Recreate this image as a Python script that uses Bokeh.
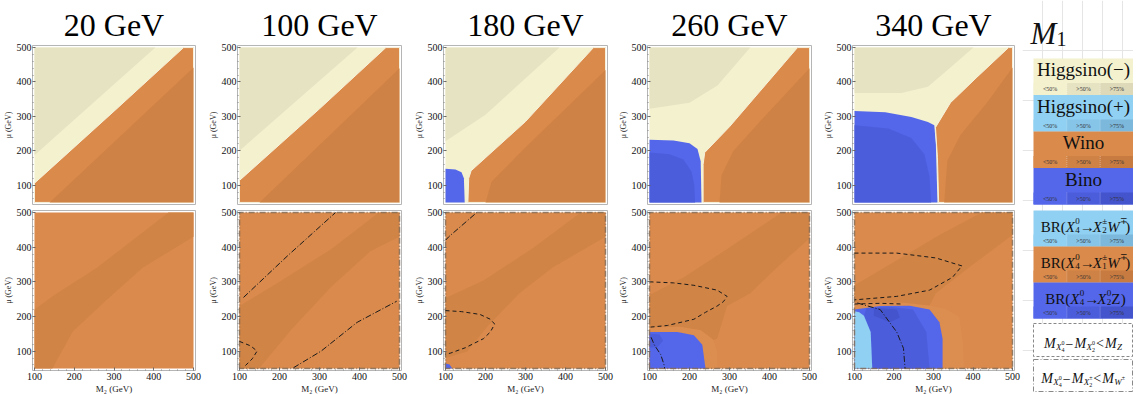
from bokeh.plotting import figure
from bokeh.layouts import row, column
from bokeh.models import Range1d, FixedTicker
from bokeh.embed import file_html
from bokeh.resources import INLINE
from bokeh.core.properties import value

# ---------------- data ----------------
M1_TITLES = ["20 GeV", "100 GeV", "180 GeV", "260 GeV", "340 GeV"]
M2_TICKS = [100, 200, 300, 400, 500]
MU_TICKS = [100, 200, 300, 400, 500]
M2_MINOR = list(range(100, 501, 20))
MU_MINOR = list(range(60, 501, 20))
M2_RANGE = (100, 500)
MU_RANGE = (50, 500)

# Top row: neutralino composition regions, vertices as (M2, mu)
T20_HIGGS_GT50 = [(100, 187), (404, 500), (100, 500)]
T20_WINO = [(100, 50), (100, 106), (300, 315), (475, 500), (500, 500), (500, 50)]
T20_WINO_GT50 = [(138, 50), (500, 442), (500, 50)]

T100_HIGGS_GT50 = [(100, 200), (395, 500), (100, 500)]
T100_WINO = [(100, 50), (100, 114), (300, 322), (466, 500), (500, 500), (500, 50)]
T100_WINO_GT50 = [(150, 50), (500, 440), (500, 50)]

T180_HIGGS_GT50 = [(100, 228), (200, 305), (385, 500), (100, 500)]
T180_BINO = [(100, 50), (100, 148), (125, 146), (140, 138), (146, 120), (148, 50)]
T180_WINO = [(156, 50), (158, 120), (164, 142), (300, 285), (470, 500), (500, 500), (500, 50)]
T180_WINO_GT50 = [(200, 50), (215, 110), (300, 210), (500, 435), (500, 50)]

T260_HIGGS_GT50 = [(100, 322), (200, 340), (270, 390), (352, 500), (100, 500)]
T260_BINO = [(100, 50), (100, 232), (160, 230), (200, 222), (220, 205), (228, 170), (230, 50)]
T260_BINO_GT50 = [(100, 50), (100, 195), (150, 190), (185, 175), (205, 140), (212, 100), (214, 50)]
T260_WINO = [(234, 50), (234, 160), (238, 195), (300, 270), (470, 500), (500, 500), (500, 50)]
T260_WINO_GT50 = [(275, 50), (280, 130), (310, 200), (380, 290), (500, 440), (500, 50)]

T340_HIGGS_GT50 = [(100, 368), (219, 368), (286, 386), (343, 442), (401, 500), (100, 500)]
T340_BINO = [(100, 50), (100, 316), (178, 312), (244, 298), (286, 284), (302, 274), (306, 218), (310, 50)]
T340_BINO_GT50 = [(100, 50), (100, 274), (186, 265), (244, 237), (277, 190), (290, 125), (294, 50)]
T340_WINO = [(313, 50), (310, 180), (305, 268), (343, 340), (410, 414), (490, 500), (500, 500), (500, 50)]
T340_WINO_GT50 = [(327, 50), (335, 172), (368, 246), (435, 340), (500, 442), (500, 50)]

# Bottom row: branching-ratio regions, vertices as (M2, mu)
B20_BAND = [(100, 50), (100, 220), (150, 262), (257, 341), (437, 500), (500, 500), (500, 430),
            (372, 341), (282, 248), (196, 156), (145, 50)]

B100_BAND = [(100, 50), (100, 230), (200, 300), (330, 395), (448, 500), (500, 500), (500, 430),
             (427, 388), (329, 285), (231, 164), (149, 50)]
B100_DASHDOT_1 = [(110, 255), (220, 375), (340, 500)]
B100_DASHDOT_2 = [(235, 52), (304, 100), (394, 183), (493, 244)]
B100_DASHED = [(100, 128), (128, 115), (144, 100), (132, 78), (112, 55)]

B180_BAND = [(100, 80), (100, 253), (195, 304), (318, 397), (438, 500), (500, 500), (500, 430),
             (367, 341), (285, 267), (207, 174), (154, 99)]
B180_BINO = [(100, 50), (100, 64), (110, 61), (117, 50)]
B180_DASHED = [(100, 217), (140, 214), (186, 206), (212, 192), (223, 178), (212, 155), (195, 136),
               (150, 110), (112, 94), (100, 91)]
B180_DASHDOT = [(100, 420), (108, 430), (178, 500)]

B260_BAND = [(100, 168), (100, 262), (186, 313), (310, 407), (430, 500), (500, 500), (500, 425),
             (418, 341), (352, 267), (294, 230), (269, 136), (260, 132), (228, 160), (175, 170)]
B260_HALO = [(100, 50), (100, 168), (175, 170), (228, 160), (260, 132), (269, 100), (270, 50)]
B260_BINO = [(100, 50), (100, 155), (170, 155), (211, 146), (232, 118), (240, 50)]
B260_BINO_GT50 = [(100, 110), (100, 150), (125, 148), (134, 130), (120, 112)]
B260_DASHED = [(100, 300), (160, 297), (211, 290), (269, 276), (294, 258), (285, 243), (269, 230),
               (240, 212), (211, 192), (145, 174), (100, 169)]
B260_DASHDOT = [(104, 140), (112, 118), (128, 90), (136, 62), (138, 50)]

B340_BAND = [(100, 240), (100, 290), (315, 435), (422, 500), (500, 500), (500, 435), (389, 341),
             (306, 267), (290, 232), (220, 240)]
B340_HALO = [(100, 50), (100, 230), (220, 240), (290, 232), (330, 222), (365, 200), (375, 120), (377, 50)]
B340_BINO = [(100, 50), (100, 220), (165, 230), (240, 231), (290, 220), (315, 183), (323, 136), (323, 50)]
B340_BINO_GT50 = [(124, 202), (141, 155), (145, 50), (290, 50), (282, 155), (248, 220), (180, 229), (130, 224)]
B340_BINO_GT75 = [(149, 225), (207, 220), (215, 197), (190, 183), (149, 202)]
B340_HWINO = [(100, 50), (100, 215), (112, 212), (124, 202), (141, 155), (145, 50)]
B340_DASHED = [(100, 383), (207, 383), (306, 369), (372, 346), (348, 313), (290, 276), (207, 258), (100, 248)]
B340_DASHED_2 = [(100, 236), (165, 238), (220, 236)]
B340_DASHDOT = [(107, 239), (165, 220), (207, 155), (224, 108), (228, 50)]

# legend entries
COMP_NAMES = ["Higgsino(\u2212)", "Higgsino(+)", "Wino", "Bino"]
PCT_LABELS = ["<50%", ">50%", ">75%"]

# ---------------- styling ----------------
SERIF = "Liberation Serif"
CREAM = ["#f4f1cf", "#e6e3c3", "#ddd9b9"]
LBLUE = ["#90d0f2", "#86c4e8", "#7bb8dc"]
ORANGE = ["#da8a4b", "#cf8245", "#c77b41"]
BLUE = ["#5467ea", "#4c5ddc", "#4454cc"]
B_BASE = "#d98a4c"
B_BAND = "#d08446"
B_HALO = "#dc8d50"

# (left border, frame width, right border) per column
COL_GEOM = [(28, 163, 10), (30, 164, 10), (31, 164, 8), (32, 164, 8), (33, 162, 8)]
TOP_GEOM = (45, 159, 3)     # top border, frame height, bottom border
BOT_GEOM = (3, 160, 22)

DOMAIN = [(M2_RANGE[0], MU_RANGE[0]), (M2_RANGE[0], MU_RANGE[1]),
          (M2_RANGE[1], MU_RANGE[1]), (M2_RANGE[1], MU_RANGE[0])]


def xs(poly):
    return [q[0] for q in poly]


def ys(poly):
    return [q[1] for q in poly]


def make_panel(col, top, layers, dashed=(), dashdot=(), frame_dd=False, wino_edges=()):
    lb, fw, rb = COL_GEOM[col]
    common = dict(frame_width=fw, min_border_left=lb, min_border_right=rb,
                  x_range=Range1d(95, 505), y_range=Range1d(44, 506),
                  toolbar_location=None, output_backend="svg", tools="")
    if top:
        bt, fh, bb = TOP_GEOM
        p = figure(frame_height=fh, min_border_top=bt, min_border_bottom=bb,
                   x_axis_location=None, title=M1_TITLES[col], **common)
        p.title.text_font = SERIF
        p.title.text_font_size = "32px"
        p.title.text_font_style = "normal"
        p.title.align = "center"
        p.title.standoff = 5
        p.title.text_color = "black"
    else:
        bt, fh, bb = BOT_GEOM
        p = figure(frame_height=fh, min_border_top=bt, min_border_bottom=bb, **common)
        p.xaxis.ticker = FixedTicker(ticks=M2_TICKS, minor_ticks=M2_MINOR)
        p.xaxis.axis_label = "M\u2082 (GeV)"
        p.xaxis.axis_label_text_font = SERIF
        p.xaxis.axis_label_text_font_size = "9px"
        p.xaxis.axis_label_text_font_style = "normal"
        p.xaxis.axis_label_standoff = 1
        p.xaxis.major_label_text_font = SERIF
        p.xaxis.major_label_text_font_size = "10px"
        p.xaxis.major_label_standoff = 2
        p.xaxis.axis_line_color = None
        p.xaxis.major_tick_in = 3
        p.xaxis.major_tick_out = 0
        p.xaxis.minor_tick_in = 1
        p.xaxis.minor_tick_out = 0
        p.xaxis.major_tick_line_color = "#666"
        p.xaxis.minor_tick_line_color = "#888"
        p.xaxis.major_label_text_color = "#111"
        p.xaxis.axis_label_text_color = "#222"
    p.yaxis.ticker = FixedTicker(ticks=MU_TICKS, minor_ticks=MU_MINOR)
    p.yaxis.axis_label = "\u03bc (GeV)"
    p.yaxis.axis_label_text_font = SERIF
    p.yaxis.axis_label_text_font_size = "8px"
    p.yaxis.axis_label_text_font_style = "normal"
    p.yaxis.axis_label_standoff = 1
    p.yaxis.major_label_text_font = SERIF
    p.yaxis.major_label_text_font_size = "10px"
    p.yaxis.major_label_standoff = 1
    p.yaxis.axis_line_color = None
    p.yaxis.major_tick_in = 3
    p.yaxis.major_tick_out = 0
    p.yaxis.minor_tick_in = 1
    p.yaxis.minor_tick_out = 0
    p.yaxis.major_tick_line_color = "#666"
    p.yaxis.minor_tick_line_color = "#888"
    p.yaxis.major_label_text_color = "#111"
    p.yaxis.axis_label_text_color = "#222"
    p.grid.visible = False
    p.outline_line_color = "#b5b5b5"
    p.background_fill_color = "white"
    p.border_fill_color = "white"

    for poly, color in layers:
        edge = "#f6f1dc" if any(poly is w for w in wino_edges) else None
        p.patch(xs(poly), ys(poly), fill_color=color, line_color=edge, line_width=1)
    if frame_dd:
        rect = DOMAIN + [DOMAIN[0]]
        p.line(xs(rect), ys(rect), line_color="#7d6650", line_width=1.5, line_dash="6 2 1 2", line_alpha=0.8)
    for ln in dashed:
        p.line(xs(ln), ys(ln), line_color="#1a1a1a", line_width=1, line_dash="4 3")
    for ln in dashdot:
        p.line(xs(ln), ys(ln), line_color="#1a1a1a", line_width=1, line_dash="6 2 1 2")
    return p


tops = [
    make_panel(0, True, [(DOMAIN, CREAM[0]), (T20_HIGGS_GT50, CREAM[1]), (T20_WINO, ORANGE[0]),
                         (T20_WINO_GT50, ORANGE[1])], wino_edges=(T20_WINO,)),
    make_panel(1, True, [(DOMAIN, CREAM[0]), (T100_HIGGS_GT50, CREAM[1]), (T100_WINO, ORANGE[0]),
                         (T100_WINO_GT50, ORANGE[1])], wino_edges=(T100_WINO,)),
    make_panel(2, True, [(DOMAIN, CREAM[0]), (T180_HIGGS_GT50, CREAM[1]), (T180_BINO, BLUE[0]),
                         (T180_WINO, ORANGE[0]), (T180_WINO_GT50, ORANGE[1])], wino_edges=(T180_WINO,)),
    make_panel(3, True, [(DOMAIN, CREAM[0]), (T260_HIGGS_GT50, CREAM[1]), (T260_BINO, BLUE[0]),
                         (T260_BINO_GT50, BLUE[1]), (T260_WINO, ORANGE[0]), (T260_WINO_GT50, ORANGE[1])],
               wino_edges=(T260_WINO,)),
    make_panel(4, True, [(DOMAIN, CREAM[0]), (T340_HIGGS_GT50, CREAM[1]), (T340_BINO, BLUE[0]),
                         (T340_BINO_GT50, BLUE[1]), (T340_WINO, ORANGE[0]), (T340_WINO_GT50, ORANGE[1])],
               wino_edges=(T340_WINO,)),
]

bottoms = [
    make_panel(0, False, [(DOMAIN, B_BASE), (B20_BAND, B_BAND)]),
    make_panel(1, False, [(DOMAIN, B_BASE), (B100_BAND, B_BAND)],
               dashed=[B100_DASHED], dashdot=[B100_DASHDOT_1, B100_DASHDOT_2], frame_dd=True),
    make_panel(2, False, [(DOMAIN, B_BASE), (B180_BAND, B_BAND), (B180_BINO, BLUE[0])],
               dashed=[B180_DASHED], dashdot=[B180_DASHDOT], frame_dd=True),
    make_panel(3, False, [(DOMAIN, B_BASE), (B260_BAND, B_BAND), (B260_HALO, B_HALO),
                          (B260_BINO, BLUE[0]), (B260_BINO_GT50, BLUE[1])],
               dashed=[B260_DASHED], dashdot=[B260_DASHDOT], frame_dd=True),
    make_panel(4, False, [(DOMAIN, B_BASE), (B340_HALO, B_HALO), (B340_BAND, B_BAND),
                          (B340_BINO, BLUE[0]), (B340_BINO_GT50, BLUE[1]), (B340_BINO_GT75, BLUE[2]),
                          (B340_HWINO, LBLUE[0])],
               dashed=[B340_DASHED, B340_DASHED_2], dashdot=[B340_DASHDOT], frame_dd=True),
]

# ---------------- legend column ----------------
LW = 111
LH = TOP_GEOM[0] + TOP_GEOM[1] + TOP_GEOM[2] + BOT_GEOM[0] + BOT_GEOM[1] + BOT_GEOM[2]
lg = figure(width=LW, height=LH, x_range=Range1d(0, LW), y_range=Range1d(LH, 0), min_border=0,
            x_axis_location=None, y_axis_location=None, toolbar_location=None,
            output_backend="svg", tools="")
lg.outline_line_color = None
lg.background_fill_color = "white"
lg.border_fill_color = "white"


def txt(x, y, s, size, italic=False, align="left", baseline="alphabetic", color="#111"):
    lg.text(x=[x], y=[y], text=[s], text_font=value(SERIF), text_font_size=value(f"{size}px"),
            text_font_style="italic" if italic else "normal", text_align=align,
            text_baseline=baseline, text_color=color)


def rich(pieces, cx, base):
    total = sum(pc[4] for pc in pieces)
    x = cx - total / 2
    for s, size, italic, dy, adv in pieces:
        txt(x, base + dy, s, size, italic)
        x += adv


X0, X1 = 11, 111
CW = (X1 - X0) / 3.0


def block(y0, h, colors, title=None, pieces=None, title_size=19):
    lg.quad(left=[X0], right=[X1], top=[y0], bottom=[y0 + h], fill_color=colors[0], line_color=None)
    rt = y0 + h - 12
    for i in range(3):
        lg.quad(left=[X0 + i * CW], right=[X0 + (i + 1) * CW], top=[rt], bottom=[y0 + h],
                fill_color=colors[i], line_color=None)
        txt(X0 + (i + 0.5) * CW, rt + 6, PCT_LABELS[i], 6, align="center", baseline="middle", color="#333")
    lg.segment(x0=[X0 + CW, X0 + 2 * CW], y0=[rt, rt], x1=[X0 + CW, X0 + 2 * CW], y1=[y0 + h, y0 + h],
               line_color="#ffffff", line_alpha=0.35, line_dash="1 1")
    if title is not None:
        txt((X0 + X1) / 2, y0 + 11, title, title_size, align="center", baseline="middle")
    if pieces is not None:
        rich(pieces, (X0 + X1) / 2 + 2, y0 + 16)


# M1 label
txt(8, 33, "M", 31, italic=True)
txt(34, 38, "1", 20)

for k, (name, cols) in enumerate(zip(COMP_NAMES, [CREAM, LBLUE, ORANGE, BLUE])):
    block(58 + k * 36.5, 36.5, cols, title=name)

BR_A = [("BR(", 15, False, 0, 25), ("X", 15, True, 0, 9.5), ("0", 9, False, -6, 0), ("4", 9, False, 3, 4.5),
        ("\u2192", 15, False, 0, 13), ("X", 15, True, 0, 9.5), ("\u00b1", 9, False, -6, 0),
        ("2", 9, False, 3, 5), ("W", 15, True, 0, 12.5), ("\u2213", 9, False, -6, 5.5), (")", 15, False, 0, 5)]
BR_B = [("BR(", 15, False, 0, 25), ("X", 15, True, 0, 9.5), ("0", 9, False, -6, 0), ("4", 9, False, 3, 4.5),
        ("\u2192", 15, False, 0, 13), ("X", 15, True, 0, 9.5), ("\u00b1", 9, False, -6, 0),
        ("1", 9, False, 3, 5), ("W", 15, True, 0, 12.5), ("\u2213", 9, False, -6, 5.5), (")", 15, False, 0, 5)]
BR_C = [("BR(", 15, False, 0, 25), ("X", 15, True, 0, 9.5), ("0", 9, False, -6, 0), ("4", 9, False, 3, 4.5),
        ("\u2192", 15, False, 0, 13), ("X", 15, True, 0, 9.5), ("0", 9, False, -6, 0),
        ("2", 9, False, 3, 4.5), ("Z", 15, False, 0, 9.5), (")", 15, False, 0, 5)]

for k, (pcs, cols) in enumerate(zip([BR_A, BR_B, BR_C], [LBLUE, ORANGE, BLUE])):
    block(210 + k * 36, 36, cols, pieces=pcs)

# mass-difference boxes
lg.quad(left=[X0], right=[X1 - 1], top=[323], bottom=[356], fill_color="white",
        line_color="#888", line_dash="3 2", line_width=1)
lg.quad(left=[X0], right=[X1 - 1], top=[359], bottom=[LH - 1], fill_color="white",
        line_color="#888", line_dash="5 2 1 2", line_width=1)

MZ_TXT = [("M", 14, True, 0, 12), ("X", 9, True, 3, 5.5), ("0", 6, False, -1, 0), ("4", 6, False, 6, 4),
          ("\u2212", 14, False, 0, 9), ("M", 14, True, 0, 12), ("X", 9, True, 3, 5.5), ("0", 6, False, -1, 0),
          ("2", 6, False, 6, 4), ("<", 14, False, 0, 9), ("M", 14, True, 0, 12), ("Z", 9, True, 3, 6)]
MW_TXT = [("M", 14, True, 0, 12), ("X", 9, True, 3, 5.5), ("0", 6, False, -1, 0), ("4", 6, False, 6, 4),
          ("\u2212", 14, False, 0, 9), ("M", 14, True, 0, 12), ("X", 9, True, 3, 5.5), ("\u00b1", 6, False, -1, 0),
          ("2", 6, False, 6, 4), ("<", 14, False, 0, 9), ("M", 14, True, 0, 12), ("W", 9, True, 3, 7.5),
          ("\u00b1", 6, False, -1, 4)]
rich(MZ_TXT, (X0 + X1) / 2, 343)
rich(MW_TXT, (X0 + X1) / 2, 378)

layout = row(*[column(t, b) for t, b in zip(tops, bottoms)], lg)

open("out.html", "w").write(file_html(layout, INLINE))
